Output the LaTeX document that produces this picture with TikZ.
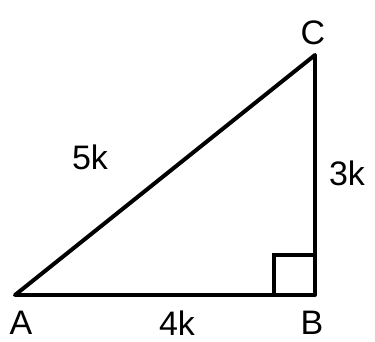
\documentclass[tikz,border=0pt]{standalone}
\usepackage{fontspec}
\setmainfont{Liberation Sans}
\usepackage{tikz}
\usetikzlibrary{calc}
\tikzset{
  side/.style={
    line width=3.4pt,
    line join=round,
    line cap=round
  },
  rightmark/.style={
    line width=2.8pt,
    line join=miter
  },
  lbl/.style={
    inner sep=0pt,
    font=\fontsize{29}{29}\selectfont
  }
}
\begin{document}
\begin{tikzpicture}[x=0.03cm,y=0.03cm]
    \useasboundingbox (0,0) rectangle (375,341);
        \coordinate (A) at (15,46);
        \coordinate (B) at (315,46);
        \coordinate (C) at (315,286);
        \draw[side] (A)--(B)--(C)--cycle;
        %right angle at B
        \draw[rightmark] ($(B)+(-41,0)$)--++(0,40)--++(41,0);
        \node[lbl] (labA) at (21,18) {A};
        \node[lbl] (labB) at (312,18) {B};
        \node[lbl] (labC) at (313,308) {C};
        \node[lbl] (lab4k) at (177,18) {4k};
        \node[lbl] (lab3k) at (347,168) {3k};
        \node[lbl] (lab5k) at (90,184) {5k};
    \end{tikzpicture}
\end{document}
